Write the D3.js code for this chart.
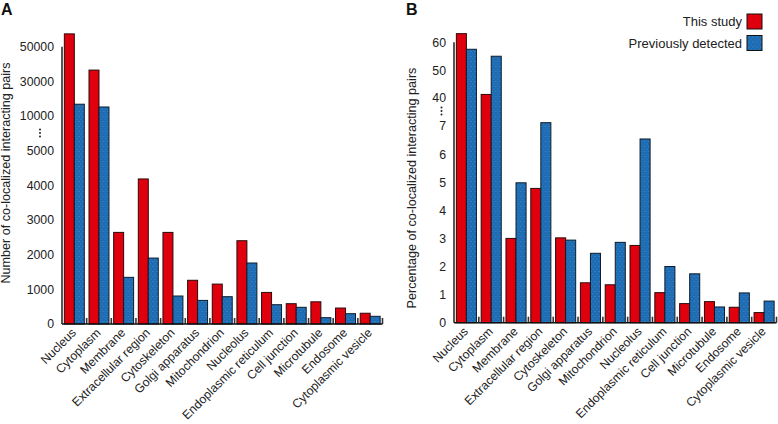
<!DOCTYPE html>
<html>
<head>
<meta charset="utf-8">
<script src="https://cdn.jsdelivr.net/npm/d3@7"></script>
<style>
    body { margin: 0; background: #fff; }
    svg { display: block; font-family: "Liberation Sans", Arial, Helvetica, sans-serif; }
    .tick-label, .axis-title, .cat-label, .legend-label { fill: #222; }
</style>
</head>
<body>
<div id="chart"></div>
<script>
const categories = ['Nucleus', 'Cytoplasm', 'Membrane', 'Extracellular region', 'Cytoskeleton',
    'Golgi apparatus', 'Mitochondrion', 'Nucleolus', 'Endoplasmic reticulum', 'Cell junction',
    'Microtubule', 'Endosome', 'Cytoplasmic vesicle'];

// panel A: counts
const countStudy = [57400, 36500, 2640, 4180, 2640, 1260, 1150, 2400, 910, 585, 640, 460, 310];
const countPrev = [16800, 15200, 1345, 1900, 807, 680, 787, 1758, 556, 481, 182, 297, 222];
const countTicks = [0, 1000, 2000, 3000, 4000, 5000, 10000, 30000, 50000];

// panel B: percentages
const pctStudy = [63.1, 41.3, 3.0, 4.78, 3.02, 1.42, 1.35, 2.75, 1.07, 0.68, 0.75, 0.55, 0.36];
const pctPrev = [57.5, 55.0, 4.98, 7.12, 2.94, 2.47, 2.86, 6.54, 2.0, 1.74, 0.56, 1.06, 0.77];
const pctTicks = [0, 1, 2, 3, 4, 5, 6, 7, 40, 50, 60];

const seriesNames = ['This study', 'Previously detected'];

const RED = '#e0000d';
const BLUE = '#1d6cb3';

const svg = d3.select('#chart').append('svg')
    .attr('width', 778)
    .attr('height', 424);

// dotted fill for the blue bars
const pat = svg.append('defs').append('pattern')
    .attr('id', 'dots')
    .attr('patternUnits', 'userSpaceOnUse')
    .attr('width', 4)
    .attr('height', 5);
pat.append('rect').attr('width', 4).attr('height', 5).attr('fill', BLUE);
pat.append('circle').attr('cx', 1).attr('cy', 1.5).attr('r', 0.45).attr('fill', '#7fb4e4');
pat.append('circle').attr('cx', 3).attr('cy', 4).attr('r', 0.45).attr('fill', '#5e9fd8');

class BarPanel {

    constructor(opts) {
        this.svg = opts.svg;
        this.letter = opts.letter;
        this.left = opts.left;
        this.right = opts.right;
        this.y = opts.y;
        this.ticks = opts.ticks;
        this.study = opts.study;
        this.prev = opts.prev;
        this.title = opts.title;
        this.titleX = opts.titleX;
        this.titleY = opts.titleY;
        this.dots = opts.dots;
        this.letterX = opts.letterX;

        this.draw();
    }

    draw() {
        const base = this.y(0);
        const top = this.y(this.ticks[this.ticks.length - 1]);
        const g = this.svg.append('g');

        this.x = d3.scaleBand()
            .domain(categories)
            .range([this.left, this.right])
            .padding(0);

        this.xs = d3.scaleBand()
            .domain(seriesNames)
            .range([0, this.x.bandwidth()])
            .paddingInner(0)
            .paddingOuter(0.235);

        const rows = categories.map((c, i) => ({ c, values: [this.study[i], this.prev[i]] }));

        const grp = g.selectAll('.grp')
            .data(rows)
            .enter()
            .append('g')
            .attr('transform', d => `translate(${this.x(d.c)},0)`);

        grp.selectAll('rect')
            .data(d => d.values.map((v, k) => ({ k, v })))
            .enter()
            .append('rect')
            .attr('x', d => this.xs(seriesNames[d.k]))
            .attr('width', this.xs.bandwidth())
            .attr('y', d => this.y(d.v))
            .attr('height', d => base - this.y(d.v))
            .attr('fill', d => d.k === 0 ? RED : 'url(#dots)')
            .attr('stroke', d => d.k === 0 ? '#2a0a0a' : '#0e1c2c')
            .attr('stroke-width', 1);

        // small marks between the groups
        g.selectAll('.sep')
            .data(categories)
            .enter()
            .append('line')
            .attr('x1', d => this.x(d) + this.x.bandwidth())
            .attr('x2', d => this.x(d) + this.x.bandwidth())
            .attr('y1', base)
            .attr('y2', base - 6)
            .attr('stroke', '#333')
            .attr('stroke-width', 1.6);

        // axes lines
        g.append('line')
            .attr('x1', this.left).attr('x2', this.right)
            .attr('y1', base).attr('y2', base)
            .attr('stroke', '#111').attr('stroke-width', 1.6);
        g.append('line')
            .attr('x1', this.left).attr('x2', this.left)
            .attr('y1', top).attr('y2', base)
            .attr('stroke', '#111').attr('stroke-width', 1.4);

        g.selectAll('.tick-label')
            .data(this.ticks)
            .enter()
            .append('text')
            .attr('class', 'tick-label')
            .attr('x', this.left - 8)
            .attr('y', d => this.y(d))
            .attr('dy', '0.36em')
            .attr('text-anchor', 'end')
            .attr('font-size', 12.3)
            .text(d => d);

        g.selectAll('.brk')
            .data([-3.5, 0, 3.5])
            .enter()
            .append('circle')
            .attr('cx', this.dots[0])
            .attr('cy', d => this.dots[1] + d)
            .attr('r', 1)
            .attr('fill', '#222');

        g.selectAll('.cat-label')
            .data(categories)
            .enter()
            .append('text')
            .attr('class', 'cat-label')
            .attr('font-size', 12.2)
            .attr('text-anchor', 'end')
            .attr('transform', d => `translate(${this.x(d) + this.x.bandwidth() / 2 + 2.5},${base + 9.5}) rotate(-45)`)
            .text(d => d);

        g.append('text')
            .attr('class', 'axis-title')
            .attr('font-size', 12.6)
            .attr('text-anchor', 'middle')
            .attr('transform', `translate(${this.titleX},${this.titleY}) rotate(-90)`)
            .text(this.title);

        g.append('text')
            .attr('x', this.letterX)
            .attr('y', 14.5)
            .attr('font-size', 16)
            .attr('font-weight', 'bold')
            .attr('fill', '#111')
            .text(this.letter);
    }
}

new BarPanel({
    svg: svg,
    letter: 'A',
    letterX: 1,
    left: 62,
    right: 382.5,
    y: d3.scaleLinear().domain([0, 5000, 10000, 50000]).range([324, 150.5, 116, 46.7]),
    ticks: countTicks,
    study: countStudy,
    prev: countPrev,
    title: 'Number of co-localized interacting pairs',
    titleX: 10,
    titleY: 173,
    dots: [40, 133]
});

new BarPanel({
    svg: svg,
    letter: 'B',
    letterX: 406,
    left: 454,
    right: 776.5,
    y: d3.scaleLinear().domain([0, 7.5, 35, 60]).range([322.7, 112, 112, 42.3]),
    ticks: pctTicks,
    study: pctStudy,
    prev: pctPrev,
    title: 'Percentage of co-localized interacting pairs',
    titleX: 416,
    titleY: 188,
    dots: [441.5, 111]
});

// legend
const legend = svg.append('g');
const legendRows = legend.selectAll('g')
    .data(seriesNames)
    .enter()
    .append('g')
    .attr('transform', (d, i) => `translate(0,${14 + i * 21.5})`);

legendRows.append('rect')
    .attr('x', 747)
    .attr('width', 15)
    .attr('height', 15)
    .attr('fill', (d, i) => i === 0 ? RED : 'url(#dots)')
    .attr('stroke', '#111')
    .attr('stroke-width', 1);

legendRows.append('text')
    .attr('class', 'legend-label')
    .attr('x', 742)
    .attr('y', 7.5)
    .attr('dy', '0.36em')
    .attr('text-anchor', 'end')
    .attr('font-size', 13)
    .text(d => d);
</script>
</body>
</html>
